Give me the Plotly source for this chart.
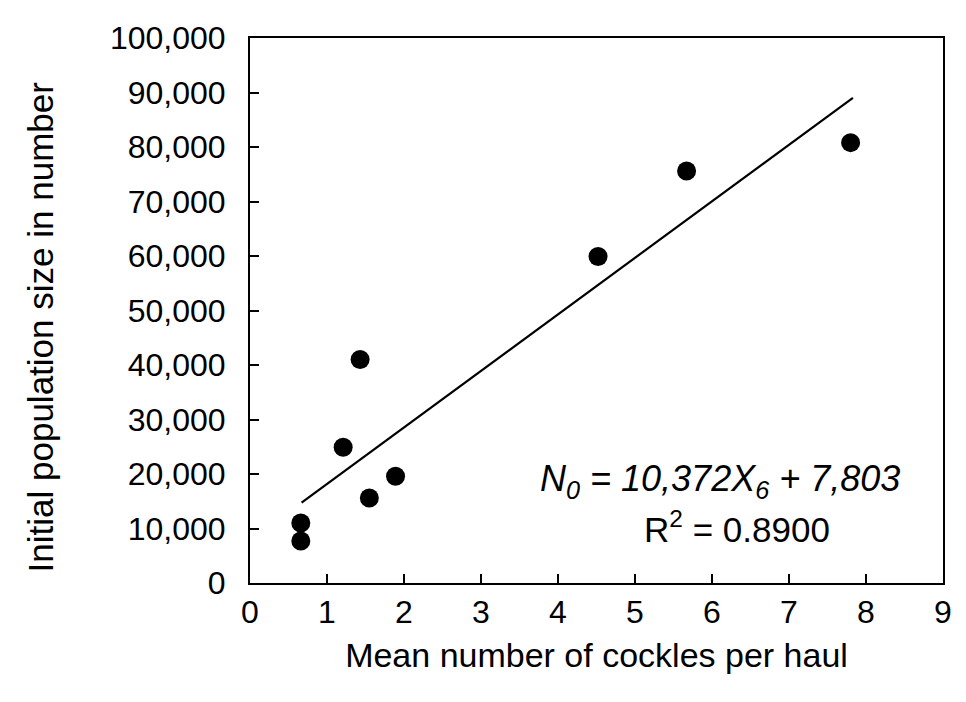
import plotly.graph_objects as go
import numpy as np

# Data
mean_cockles = [0.66, 0.66, 1.21, 1.43, 1.55, 1.89, 4.52, 5.67, 7.80]
population = [11000, 7700, 24900, 41000, 15600, 19600, 59900, 75600, 80800]
slope = 10372
intercept = 7803
fit_x_range = [0.67, 7.83]

x_ticks = list(range(0, 10))
y_ticks = list(range(0, 100001, 10000))
y_tick_labels = [f"{v:,}" for v in y_ticks]

fit_x = np.array(fit_x_range)
fit_y = slope * fit_x + intercept

fig = go.Figure()
fig.add_trace(go.Scatter(x=fit_x, y=fit_y, mode="lines",
                         line=dict(color="black", width=2.2), showlegend=False))
fig.add_trace(go.Scatter(x=mean_cockles, y=population, mode="markers",
                         marker=dict(color="black", size=19), showlegend=False))

font = "Liberation Sans, Arial, sans-serif"
fig.update_layout(
    width=966, height=702,
    margin=dict(l=242, r=31, t=27, b=127),
    plot_bgcolor="white", paper_bgcolor="white",
    font=dict(family=font, color="black"),
    xaxis=dict(range=[0, 9], tickvals=x_ticks, ticks="inside", ticklen=9,
               tickwidth=2, tickcolor="black", showline=True, linecolor="black",
               linewidth=2, mirror=True, showgrid=False, zeroline=False,
               tickfont=dict(size=32, family=font), ticklabelstandoff=0,
               title=dict(text="Mean number of cockles per haul",
                          font=dict(size=34, family=font), standoff=14)),
    yaxis=dict(range=[0, 100000], tickvals=y_ticks, ticktext=y_tick_labels,
               ticks="inside", ticklen=9, tickwidth=2, tickcolor="black",
               showline=True, linecolor="black", linewidth=2, mirror=True,
               showgrid=False, zeroline=False,
               tickfont=dict(size=32, family=font), ticklabelstandoff=16),
    annotations=[
        dict(x=-0.303, y=46900, xref="paper", yref="y", showarrow=False,
             textangle=-90, xanchor="center", yanchor="middle",
             text="Initial population size in number",
             font=dict(size=35, family=font)),
        dict(x=6.1, y=18700, xref="x", yref="y", showarrow=False,
             text="<i>N<sub>0</sub> = 10,372X<sub>6</sub> + 7,803</i>",
             font=dict(size=36, family=font)),
        dict(x=6.32, y=10300, xref="x", yref="y", showarrow=False,
             text="R<sup>2</sup> = 0.8900",
             font=dict(size=35, family=font)),
    ],
)

fig.write_html("out.html")
